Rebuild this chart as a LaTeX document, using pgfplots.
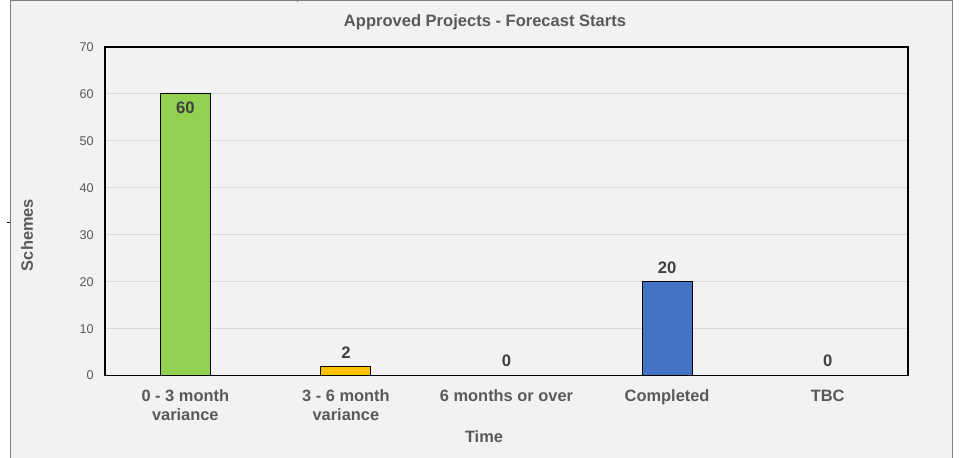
\documentclass[border=0pt]{standalone}
\usepackage{fontspec}
\setmainfont{Liberation Sans}
\usepackage{pgfplots}
\pgfplotsset{compat=1.18}
\definecolor{frame}{HTML}{F2F2F2}
\definecolor{frameline}{HTML}{7F7F7F}
\definecolor{gridc}{HTML}{D9D9D9}
\definecolor{txt}{HTML}{595959}
\definecolor{lbl}{HTML}{404040}
\definecolor{cgreen}{HTML}{92D050}
\definecolor{cyellow}{HTML}{FFC000}
\definecolor{cblue}{HTML}{4472C4}
\begin{document}
\begin{tikzpicture}
% page 960x457 px, 1px = 0.75pt
\useasboundingbox (0,0) rectangle (720pt,342.75pt);
\clip (0,0) rectangle (720pt,342.75pt);
\fill[white] (0,0) rectangle (720pt,342.75pt);
\draw[frameline, fill=frame, line width=0.75pt] (7.5pt,-5pt) rectangle (714pt,342pt);
\draw[black, line width=0.75pt] (5.5pt,176pt) -- (7.5pt,176pt);
\draw[frameline, line width=0.5pt] (223pt,342.75pt) -- (223pt,341pt);
\begin{axis}[
    at={(78.75pt,61.05pt)}, anchor=south west,
    scale only axis, width=602.25pt, height=246.45pt,
    xmin=-0.5, xmax=4.5, ymin=0, ymax=70,
    ytick={0,10,...,70},
    xtick={0,1,2,3,4},
    xticklabels={{0 - 3 month\\variance},{3 - 6 month\\variance},{6 months or over},{Completed},{TBC}},
    major tick length=0pt,
    ymajorgrids, grid style={gridc, line width=0.75pt},
    axis line style={black, line width=0.9pt},
    axis background/.style={fill=frame},
    /pgf/number format/assume math mode=true,
    yticklabel style={font=\fontsize{9.5}{11}\selectfont, text=txt, anchor=east, xshift=-5pt},
    xticklabel style={font=\fontsize{12.3}{14.25}\selectfont\bfseries, text=txt, align=center, anchor=north, yshift=-7pt},
    ybar, bar width=37.5pt, bar shift=0pt,
    nodes near coords,
    every node near coord/.append style={font=\fontsize{12.5}{14}\selectfont\bfseries, text=lbl, anchor=center},
    axis on top=false,
]
\addplot[draw=black, fill=cgreen, line width=0.75pt, every node near coord/.append style={yshift=-10.1pt}] coordinates {(0,60)};
\addplot[draw=black, fill=cyellow, line width=0.75pt, every node near coord/.append style={yshift=10.5pt}] coordinates {(1,2)};
\addplot[draw=none, fill=none, every node near coord/.append style={yshift=11pt}] coordinates {(2,0)};
\addplot[draw=black, fill=cblue, line width=0.75pt, every node near coord/.append style={yshift=10.5pt}] coordinates {(3,20)};
\addplot[draw=none, fill=none, every node near coord/.append style={yshift=11pt}] coordinates {(4,0)};
\end{axis}
\node[font=\fontsize{12.4}{14}\selectfont\bfseries, text=txt] at (363.75pt,326.25pt) {Approved Projects - Forecast Starts};
\node[font=\fontsize{12.3}{14}\selectfont\bfseries, text=txt] at (363pt,15pt) {Time};
\node[font=\fontsize{12.3}{14}\selectfont\bfseries, text=txt, rotate=90] at (20.25pt,166.5pt) {Schemes};
\end{tikzpicture}
\end{document}
